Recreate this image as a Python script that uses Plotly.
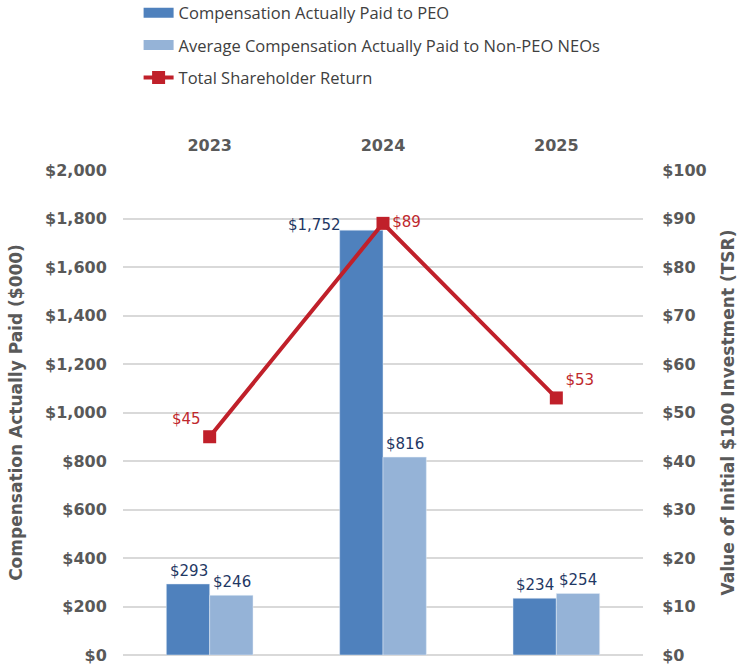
import plotly.graph_objects as go

years = ["2023", "2024", "2025"]
cap_peo = [293, 1752, 234]
cap_neo = [246, 816, 254]
tsr = [45, 89, 53]

peo_labels = ["$" + format(v, ",") for v in cap_peo]
neo_labels = ["$" + format(v, ",") for v in cap_neo]
tsr_labels = ["$" + str(v) for v in tsr]

left_ticks = list(range(0, 2001, 200))
left_ticktext = ["$" + format(v, ",") for v in left_ticks]
right_ticks = list(range(0, 101, 10))
right_ticktext = ["$" + str(v) for v in right_ticks]

C_PEO = "#4F81BD"
C_NEO = "#95B3D7"
C_TSR = "#C0202A"
GRAY = "#595959"
NAVY = "#1F3864"
CLEAR = "rgba(0,0,0,0)"
TICKFONT = dict(family="DejaVu Sans", size=16, color=GRAY, weight="bold")
TITLEFONT = dict(family="DejaVu Sans", size=17, color=GRAY, weight="bold")
LABELFONT = dict(family="DejaVu Sans", size=15, color=NAVY)

fig = go.Figure()
fig.add_trace(go.Bar(
    x=years, y=cap_peo, name="Compensation Actually Paid to PEO",
    marker=dict(color=C_PEO), showlegend=False,
))
fig.add_trace(go.Bar(
    x=years, y=cap_neo, name="Average Compensation Actually Paid to Non-PEO NEOs",
    marker=dict(color=C_NEO), showlegend=False,
))
fig.add_trace(go.Scatter(
    x=years, y=tsr, name="Total Shareholder Return", yaxis="y2",
    mode="lines+markers+text", text=tsr_labels,
    textposition=["top left", "middle right", "top right"],
    textfont=dict(family="DejaVu Sans", size=15, color="#C0282D"),
    line=dict(color=C_TSR, width=4),
    marker=dict(symbol="square", size=13, color=C_TSR),
    showlegend=False,
))

# legend entries (wide swatches like the reference)
fig.add_trace(go.Scatter(x=[years[0]], y=[None], mode="lines", name="Compensation Actually Paid to PEO",
                         line=dict(color=C_PEO, width=10), legendgroup="a"))
fig.add_trace(go.Scatter(x=[years[0]], y=[None], mode="lines",
                         name="Average Compensation Actually Paid to Non-PEO NEOs",
                         line=dict(color=C_NEO, width=10), legendgroup="b"))
fig.add_trace(go.Scatter(x=[years[0]], y=[None], mode="lines+markers", name="Total Shareholder Return",
                         line=dict(color=C_TSR, width=4),
                         marker=dict(symbol="square", size=13, color=C_TSR), legendgroup="c"))

# bar data labels (category axis: x given as category serial number)
peo_shift = [-21, -40, -21]
peo_anchor = ["center", "right", "center"]
for i in range(len(years)):
    fig.add_annotation(x=i, y=cap_peo[i], text=peo_labels[i], showarrow=False,
                       xref="x", yref="y", xshift=peo_shift[i], xanchor=peo_anchor[i],
                       yanchor="bottom", yshift=(-6 if i == 1 else 2), font=LABELFONT)
    fig.add_annotation(x=i, y=cap_neo[i], text=neo_labels[i], showarrow=False,
                       xref="x", yref="y", xshift=22, xanchor="center",
                       yanchor="bottom", yshift=2, font=LABELFONT)

fig.update_layout(
    width=743, height=670,
    margin=dict(l=123, r=100, t=170, b=15, autoexpand=False),
    paper_bgcolor="white", plot_bgcolor="white",
    barmode="group", bargap=0.5, bargroupgap=0,
    showlegend=True,
    legend=dict(x=0.03, y=1.36, xanchor="left", yanchor="top",
                font=dict(family="Open Sans", size=16.5, color="#404040"),
                traceorder="grouped", tracegroupgap=8,
                bgcolor=CLEAR),
    xaxis=dict(type="category", categoryorder="array", categoryarray=years,
               side="top", tickfont=TICKFONT, showgrid=False, showline=False,
               ticks="outside", ticklen=12, tickcolor=CLEAR),
    yaxis=dict(range=[0, 2000], tickvals=left_ticks, ticktext=left_ticktext,
               tickfont=TICKFONT, showgrid=True, gridcolor="#D9D9D9", gridwidth=1.5,
               zeroline=True, zerolinecolor="#D9D9D9", zerolinewidth=1.5,
               ticks="outside", ticklen=12, tickcolor=CLEAR,
               title=dict(text="Compensation Actually Paid ($000)", font=TITLEFONT, standoff=18)),
    yaxis2=dict(range=[0, 100], tickvals=right_ticks, ticktext=right_ticktext,
                overlaying="y", side="right", showgrid=False, zeroline=False,
                tickfont=TICKFONT, ticks="outside", ticklen=15, tickcolor=CLEAR,
                title=dict(text="Value of Initial $100 Investment (TSR)", font=TITLEFONT, standoff=16)),
)

fig.write_html("out.html", config={"displayModeBar": False},
               post_script="document.body.style.margin='0';")
